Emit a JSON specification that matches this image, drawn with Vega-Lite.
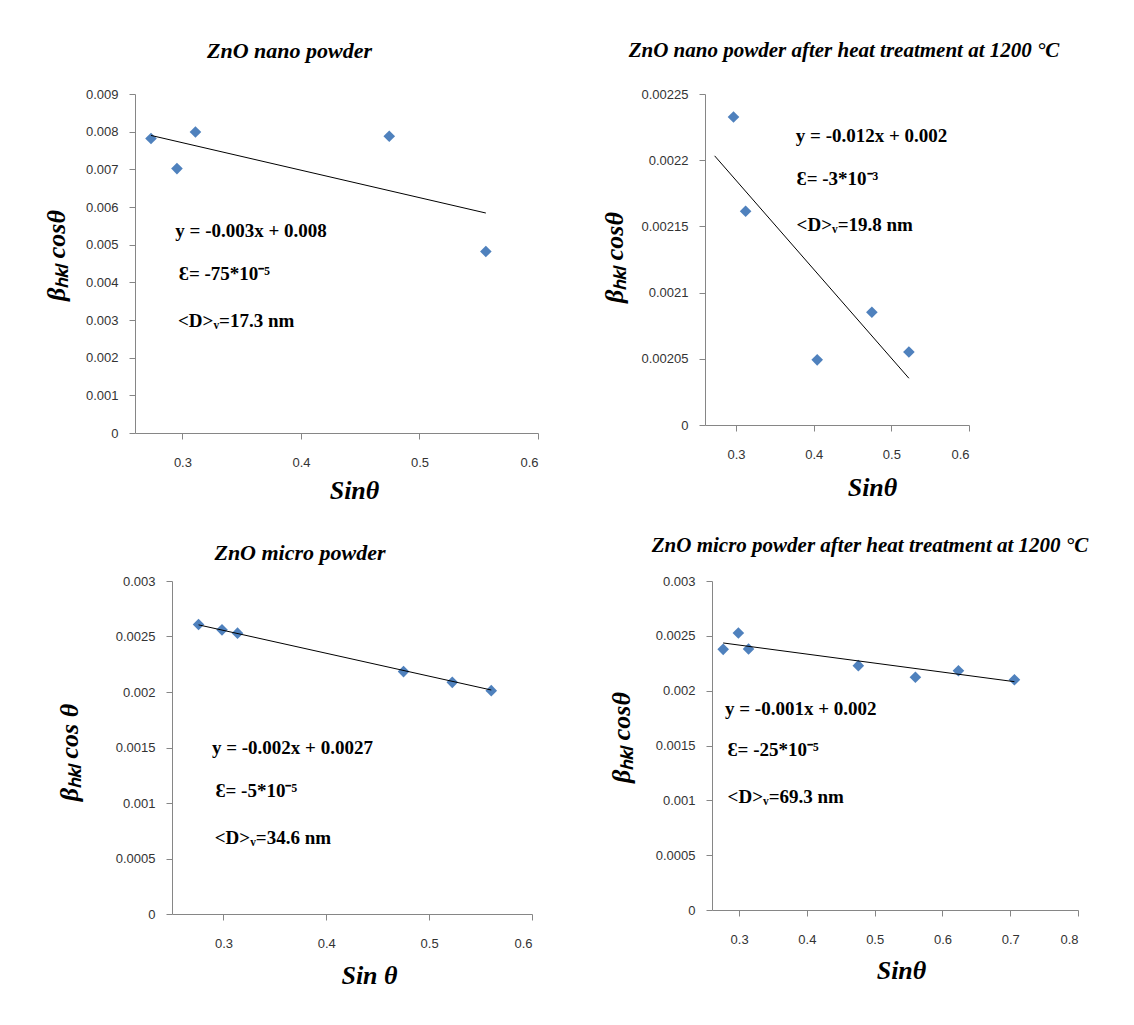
{
  "$schema": "https://vega.github.io/schema/vega-lite/v6.json",
  "autosize": {"type": "pad"},
  "padding": {"left": -33, "top": 40, "right": 5, "bottom": 5},
  "background": "white",
  "datasets": {
    "p1pts": [{"x":0.2735,"y":0.00782},{"x":0.2954,"y":0.00702},{"x":0.311,"y":0.00799},{"x":0.4745,"y":0.00788},{"x":0.556,"y":0.00482}],
    "p1fit": [{"x":0.2735,"y":0.0079},{"x":0.556,"y":0.00584}],
    "p1txt": [{"x":0.294,"y":0.00535,"label":"y = -0.003x + 0.008"},{"x":0.297,"y":0.00423,"label":"Ɛ= -75*10⁻⁵"},{"x":0.2963,"y":0.00298,"label":"<D>ᵥ=17.3 nm"}],
    "p2pts": [{"x":0.2967,"y":0.0022326},{"x":0.3123,"y":0.0021614},{"x":0.4045,"y":0.0020492},{"x":0.4749,"y":0.0020852},{"x":0.5226,"y":0.0020551}],
    "p2fit": [{"x":0.2724,"y":0.0022033},{"x":0.5226,"y":0.0020353}],
    "p2txt": [{"x":0.377,"y":0.002218,"label":"y = -0.012x + 0.002"},{"x":0.378,"y":0.002186,"label":"Ɛ= -3*10⁻³"},{"x":0.378,"y":0.0021514,"label":"<D>ᵥ=19.8 nm"}],
    "p3pts": [{"x":0.2758,"y":0.002608},{"x":0.2986,"y":0.00256},{"x":0.3137,"y":0.00253},{"x":0.4751,"y":0.002184},{"x":0.5225,"y":0.002087},{"x":0.5604,"y":0.002012}],
    "p3fit": [{"x":0.2758,"y":0.002605},{"x":0.5604,"y":0.002018}],
    "p3txt": [{"x":0.2888,"y":0.0015,"label":"y = -0.002x + 0.0027"},{"x":0.2923,"y":0.001108,"label":"Ɛ= -5*10⁻⁵"},{"x":0.2916,"y":0.000687,"label":"<D>ᵥ=34.6 nm"}],
    "p4pts": [{"x":0.2765,"y":0.002377},{"x":0.2989,"y":0.002526},{"x":0.3139,"y":0.00238},{"x":0.4759,"y":0.002228},{"x":0.5601,"y":0.002122},{"x":0.6236,"y":0.002182},{"x":0.7062,"y":0.0021}],
    "p4fit": [{"x":0.2765,"y":0.002435},{"x":0.7062,"y":0.002082}],
    "p4txt": [{"x":0.2792,"y":0.001833,"label":"y = -0.001x + 0.002"},{"x":0.283,"y":0.001459,"label":"Ɛ= -25*10⁻⁵"},{"x":0.283,"y":0.001033,"label":"<D>ᵥ=69.3 nm"}],
    "empty": []
  },
  "bounds": "full",
  "align": "all",
  "columns": 1,
  "spacing": 32,
  "concat": [
    {
      "bounds": "flush",
      "spacing": 167,
      "hconcat": [
        {"width": 1, "height": 1, "data": {"name": "empty"}, "mark": "point"},
        {
          "width": 403, "height": 339,
          "title": {"text": "ZnO nano powder", "anchor": "middle", "dx": -47, "offset": 25},
          "layer": [
            {"data": {"name": "p1pts"}, "mark": {"type": "point", "shape": "diamond", "filled": true, "size": 135, "color": "#4F81BD", "opacity": 1},
             "encoding": {
               "x": {"field": "x", "type": "quantitative", "scale": {"domain": [0.26, 0.6], "nice": false, "zero": false},
                     "axis": {"title": "Sinθ", "values": [0.3, 0.4, 0.5, 0.6], "format": ".1f", "titleX": 219, "titleY": 57, "titleBaseline": "middle", "titleAnchor": "middle"}},
               "y": {"field": "y", "type": "quantitative", "scale": {"domain": [0, 0.009], "nice": false},
                     "axis": {"title": "βₕₖₗ cosθ", "values": [0,0.001,0.002,0.003,0.004,0.005,0.006,0.007,0.008,0.009], "labelExpr": "datum.value == 0 ? '0' : format(datum.value, '.3f')", "labelOverlap": false, "tickCount": 10, "titleX": -79, "titleY": 161, "titleBaseline": "middle", "titleAngle": -90}}
             }},
            {"data": {"name": "p1fit"}, "mark": {"type": "line", "color": "#000", "strokeWidth": 1},
             "encoding": {"x": {"field": "x", "type": "quantitative"}, "y": {"field": "y", "type": "quantitative"}}},
            {"data": {"name": "p1txt"}, "mark": {"type": "text", "align": "left", "baseline": "middle", "font": "Liberation Serif", "fontWeight": "bold", "fontSize": 19, "color": "#000"},
             "encoding": {"x": {"field": "x", "type": "quantitative"}, "y": {"field": "y", "type": "quantitative"}, "text": {"field": "label"}}}
          ]
        },
        {
          "width": 264, "height": 331,
          "title": {"text": "ZnO nano powder after heat treatment at 1200 °C", "anchor": "middle", "dx": 7, "offset": 27, "fontSize": 21},
          "layer": [
            {"data": {"name": "p2pts"}, "mark": {"type": "point", "shape": "diamond", "filled": true, "size": 135, "color": "#4F81BD", "opacity": 1},
             "encoding": {
               "x": {"field": "x", "type": "quantitative", "scale": {"domain": [0.26, 0.6], "nice": false, "zero": false},
                     "axis": {"title": "Sinθ", "values": [0.3, 0.4, 0.5, 0.6], "format": ".1f", "titleX": 167, "titleY": 62, "titleBaseline": "middle", "titleAnchor": "middle"}},
               "y": {"field": "y", "type": "quantitative", "scale": {"domain": [0.002, 0.00225], "nice": false, "zero": false},
                     "axis": {"title": "βₕₖₗ cosθ", "values": [0.002,0.00205,0.0021,0.00215,0.0022,0.00225], "labelOverlap": false, "labelExpr": "datum.value < 0.00201 ? '0' : format(datum.value, '~g')", "titleX": -91, "titleY": 163, "titleBaseline": "middle", "titleAngle": -90}}
             }},
            {"data": {"name": "p2fit"}, "mark": {"type": "line", "color": "#000", "strokeWidth": 1},
             "encoding": {"x": {"field": "x", "type": "quantitative"}, "y": {"field": "y", "type": "quantitative"}}},
            {"data": {"name": "p2txt"}, "mark": {"type": "text", "align": "left", "baseline": "middle", "font": "Liberation Serif", "fontWeight": "bold", "fontSize": 19, "color": "#000"},
             "encoding": {"x": {"field": "x", "type": "quantitative"}, "y": {"field": "y", "type": "quantitative"}, "text": {"field": "label"}}}
          ]
        }
      ]
    },
    {
      "bounds": "flush",
      "spacing": 180,
      "hconcat": [
        {"width": 25, "height": 1, "data": {"name": "empty"}, "mark": "point"},
        {
          "width": 360, "height": 333,
          "title": {"text": "ZnO micro powder", "anchor": "middle", "dx": -52, "offset": 10},
          "layer": [
            {"data": {"name": "p3pts"}, "mark": {"type": "point", "shape": "diamond", "filled": true, "size": 135, "color": "#4F81BD", "opacity": 1},
             "encoding": {
               "x": {"field": "x", "type": "quantitative", "scale": {"domain": [0.25, 0.6], "nice": false, "zero": false},
                     "axis": {"title": "Sin θ", "values": [0.3, 0.4, 0.5, 0.6], "format": ".1f", "titleX": 197, "titleY": 61, "titleBaseline": "middle", "titleAnchor": "middle"}},
               "y": {"field": "y", "type": "quantitative", "scale": {"domain": [0, 0.003], "nice": false},
                     "axis": {"title": "βₕₖₗ cos θ", "values": [0,0.0005,0.001,0.0015,0.002,0.0025,0.003], "format": "~g", "labelOverlap": false, "titleX": -103, "titleY": 171, "titleBaseline": "middle", "titleAngle": -90}}
             }},
            {"data": {"name": "p3fit"}, "mark": {"type": "line", "color": "#000", "strokeWidth": 1},
             "encoding": {"x": {"field": "x", "type": "quantitative"}, "y": {"field": "y", "type": "quantitative"}}},
            {"data": {"name": "p3txt"}, "mark": {"type": "text", "align": "left", "baseline": "middle", "font": "Liberation Serif", "fontWeight": "bold", "fontSize": 19, "color": "#000"},
             "encoding": {"x": {"field": "x", "type": "quantitative"}, "y": {"field": "y", "type": "quantitative"}, "text": {"field": "label"}}}
          ]
        },
        {
          "width": 366, "height": 329,
          "title": {"text": "ZnO micro powder after heat treatment at 1200 °C", "anchor": "middle", "dx": -25, "offset": 19, "fontSize": 21},
          "layer": [
            {"data": {"name": "p4pts"}, "mark": {"type": "point", "shape": "diamond", "filled": true, "size": 135, "color": "#4F81BD", "opacity": 1},
             "encoding": {
               "x": {"field": "x", "type": "quantitative", "scale": {"domain": [0.26, 0.8], "nice": false, "zero": false},
                     "axis": {"title": "Sinθ", "values": [0.3, 0.4, 0.5, 0.6, 0.7, 0.8], "format": ".1f", "titleX": 189, "titleY": 60, "titleBaseline": "middle", "titleAnchor": "middle"}},
               "y": {"field": "y", "type": "quantitative", "scale": {"domain": [0, 0.003], "nice": false},
                     "axis": {"title": "βₕₖₗ cosθ", "values": [0,0.0005,0.001,0.0015,0.002,0.0025,0.003], "format": "~g", "labelOverlap": false, "titleX": -91, "titleY": 156, "titleBaseline": "middle", "titleAngle": -90}}
             }},
            {"data": {"name": "p4fit"}, "mark": {"type": "line", "color": "#000", "strokeWidth": 1},
             "encoding": {"x": {"field": "x", "type": "quantitative"}, "y": {"field": "y", "type": "quantitative"}}},
            {"data": {"name": "p4txt"}, "mark": {"type": "text", "align": "left", "baseline": "middle", "font": "Liberation Serif", "fontWeight": "bold", "fontSize": 19, "color": "#000"},
             "encoding": {"x": {"field": "x", "type": "quantitative"}, "y": {"field": "y", "type": "quantitative"}, "text": {"field": "label"}}}
          ]
        }
      ]
    }
  ],
  "config": {
    "view": {"stroke": null},
    "axis": {"grid": false, "domainColor": "#868686", "tickColor": "#868686", "tickSize": 6, "labelOverlap": false,
             "labelFont": "Liberation Sans", "labelFontSize": 13, "labelColor": "#333",
             "titleFont": "Liberation Serif", "titleFontStyle": "italic", "titleFontWeight": "bold", "titleFontSize": 26, "titleColor": "#000"},
    "axisY": {"labelPadding": 11},
    "axisX": {"labelPadding": 17},
    "title": {"font": "Liberation Serif", "fontStyle": "italic", "fontWeight": "bold", "fontSize": 22, "color": "#000"}
  }
}
